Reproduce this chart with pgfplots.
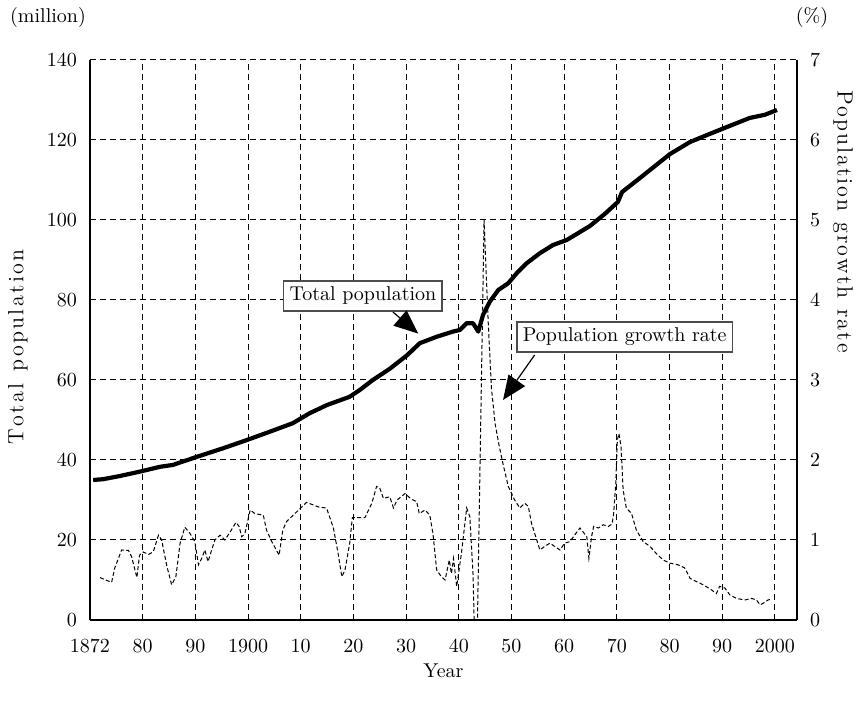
\documentclass[border=0pt]{standalone}
\usepackage{pgfplots}
\pgfplotsset{compat=1.18}
\usetikzlibrary{arrows.meta}
\newdimen\spk
\def\spaceout#1#2{\spk=#1\relax\spaceoutA#2\relax}
\def\spaceoutA#1{\ifx#1\relax\else#1\kern\spk\expandafter\spaceoutA\fi}
\begin{document}
\begin{tikzpicture}
\path[use as bounding box] (-45pt,-42pt) rectangle (384pt,310pt);
\begin{axis}[
  at={(0,0)}, anchor=origin,
  scale only axis, width=353.5pt, height=280pt,
  xmin=1870, xmax=2004.2, ymin=0, ymax=140,
  axis x line*=bottom, axis y line*=left,
  axis line style={line width=0.8pt},
  xtick={1870,1880,1890,1900,1910,1920,1930,1940,1950,1960,1970,1980,1990,2000},
  xticklabels={1872,80,90,1900,10,20,30,40,50,60,70,80,90,2000},
  ytick={0,20,...,140},
  major tick style={draw=none},
  xmajorgrids, ymajorgrids,
  grid style={black, line width=0.5pt, dash pattern=on 3pt off 2pt},
  tick label style={font=\normalsize},
  xticklabel style={yshift=-6pt},
  yticklabel style={xshift=-3pt},
  xlabel={Year}, ylabel={\fontsize{11}{13}\selectfont\spaceout{1.2pt}{Total\ population}},
  xlabel style={at={(axis description cs:0.5,-0.09)}, anchor=center},
  ylabel style={at={(axis description cs:-0.102,0.49)}, anchor=center, rotate=0},
  clip=true,
]
\addplot[black, line width=2.1pt, line join=round] coordinates {
(1870.6,35) (1872.5,35.2) (1875.7,36) (1879.5,37.1) (1883.3,38.3) (1885.7,38.75)
(1890.3,40.8) (1895.2,42.9) (1899.8,45) (1904.2,47.1) (1908.5,49.2) (1911.7,51.7)
(1915,53.75) (1919.3,55.8) (1921.2,57.5) (1923.7,60) (1926.9,62.8) (1930.2,66.2)
(1932.6,69.2) (1935.8,70.8) (1938.9,72.1) (1940.2,72.5) (1941.5,74.2) (1942.7,74.2)
(1943.7,72.1) (1944.6,76.25) (1945.9,79.6) (1947.5,82.5) (1949.4,84.2) (1951.0,86.7)
(1952.9,89.2) (1955.4,91.7) (1957.9,93.75) (1960.5,95) (1964.9,98.5) (1967.7,101.5)
(1970.2,104.5) (1971,107) (1974.4,110.5) (1976.3,112.5) (1980.1,116.5) (1983.9,119.5)
(1987.6,121.5) (1991.4,123.5) (1995.2,125.5) (1998.1,126.3) (2000.4,127.5)
};
\node[draw=black!70, fill=white, inner sep=3pt, line width=0.8pt] (tp) at (axis cs:1921.8,81) {Total population};
\draw[-{Triangle[length=12pt,width=10pt]}, line width=0.6pt] (axis cs:1927.5,77) -- (axis cs:1932.3,71.6);
\node[draw=black!70, fill=white, inner sep=3pt, line width=0.8pt] (gr) at (axis cs:1971.5,70.75) {Population growth rate};
\draw[-{Triangle[length=12pt,width=10pt]}, line width=0.6pt] (axis cs:1954.4,66.25) -- (axis cs:1948.4,55);
\end{axis}
\begin{axis}[
  at={(0,0)}, anchor=origin,
  scale only axis, width=353.5pt, height=280pt,
  xmin=1870, xmax=2004.2, ymin=0, ymax=7,
  axis x line=none, axis y line*=right,
  axis line style={line width=0.8pt},
  ytick={0,1,...,7},
  major tick style={draw=none},
  tick label style={font=\normalsize},
  yticklabel style={xshift=3pt},
  ylabel={\fontsize{11}{13}\selectfont\spaceout{1.0pt}{Population\ growth\ rate}},
  ylabel style={at={(axis description cs:1.065,0.71)}, anchor=center, rotate=180},
  clip=true,
]
\addplot[black, line width=0.5pt, dash pattern=on 2pt off 1.2pt] coordinates {
(1871.9,0.53) (1874.1,0.47) (1874.7,0.65) (1876.0,0.875) (1877.3,0.87) (1877.9,0.79)
(1878.9,0.53) (1879.4,0.81) (1880.1,0.85) (1881.1,0.82) (1882.0,0.85) (1883.0,1.06)
(1883.6,1.0) (1884.6,0.67) (1885.5,0.44) (1886.3,0.54) (1887.1,0.96) (1888.0,1.16)
(1889.0,1.08) (1889.9,0.98) (1890.6,0.69) (1891.2,0.77) (1891.8,0.875) (1892.4,0.73)
(1893.7,1.0) (1894.7,1.06) (1895.6,1.0) (1896.6,1.10) (1897.7,1.22) (1898.3,1.17)
(1898.8,1.04) (1899.4,1.08) (1900.4,1.375) (1901.3,1.33) (1902.9,1.31) (1903.5,1.125)
(1904.5,0.98) (1905.9,0.81) (1906.6,1.125) (1907.3,1.23) (1909.2,1.35) (1911.1,1.47)
(1913.5,1.41) (1914.9,1.40) (1916.2,1.15) (1917.1,0.83) (1917.8,0.54) (1918.4,0.625)
(1919.3,0.96) (1919.8,1.28) (1922.2,1.28) (1923.5,1.46) (1924.4,1.67) (1925.0,1.65)
(1925.7,1.52) (1926.9,1.54) (1927.6,1.40) (1928.3,1.5) (1929.8,1.58) (1931.0,1.51)
(1932.0,1.48) (1932.5,1.33) (1933.6,1.375) (1934.5,1.31) (1935.1,1.08) (1935.8,0.625)
(1936.7,0.54) (1937.4,0.5) (1938.2,0.75) (1938.6,0.58) (1939.0,0.77) (1939.6,0.42)
(1940.5,0.83) (1941.5,1.40) (1942.1,1.29) (1942.7,0.58) (1943.3,-1.0) (1944.8,5.0)
(1945.6,3.7) (1946.2,2.9) (1946.9,2.45) (1947.6,2.2) (1948.4,1.95) (1949.4,1.67)
(1950.6,1.5) (1951.6,1.40) (1952.5,1.46) (1953.2,1.42) (1953.8,1.21) (1954.8,1.0)
(1955.4,0.875) (1956.3,0.92) (1957.3,0.96) (1958.2,0.92) (1959.2,0.875) (1960.1,0.96)
(1961.1,0.98) (1962.2,1.08) (1963.0,1.15) (1963.6,1.10) (1964.3,1.04) (1964.7,0.77)
(1965.2,1.04) (1965.6,1.17) (1966.5,1.15) (1967.4,1.19) (1968.4,1.17) (1969.1,1.2)
(1969.4,1.33) (1969.8,1.71) (1970.1,2.25) (1970.4,2.33) (1970.8,2.17) (1971.2,1.625)
(1971.8,1.40) (1972.8,1.33) (1973.7,1.125) (1975.0,0.98) (1976.3,0.92) (1977.5,0.83)
(1978.8,0.75) (1980.1,0.71) (1981.6,0.69) (1982.9,0.65) (1983.9,0.52) (1985.1,0.48)
(1986.4,0.44) (1988.0,0.375) (1988.9,0.33) (1989.5,0.42) (1990.5,0.40) (1991.5,0.31)
(1992.7,0.27) (1994.3,0.25) (1995.6,0.27) (1996.5,0.25) (1997.2,0.19) (1997.8,0.21)
(1998.7,0.25) (1999.3,0.26)
};
\end{axis}
\node[anchor=center] at (-21pt,301pt) {(million)};
\node[anchor=center] at (361pt,301pt) {(\%)};
\end{tikzpicture}
\end{document}
